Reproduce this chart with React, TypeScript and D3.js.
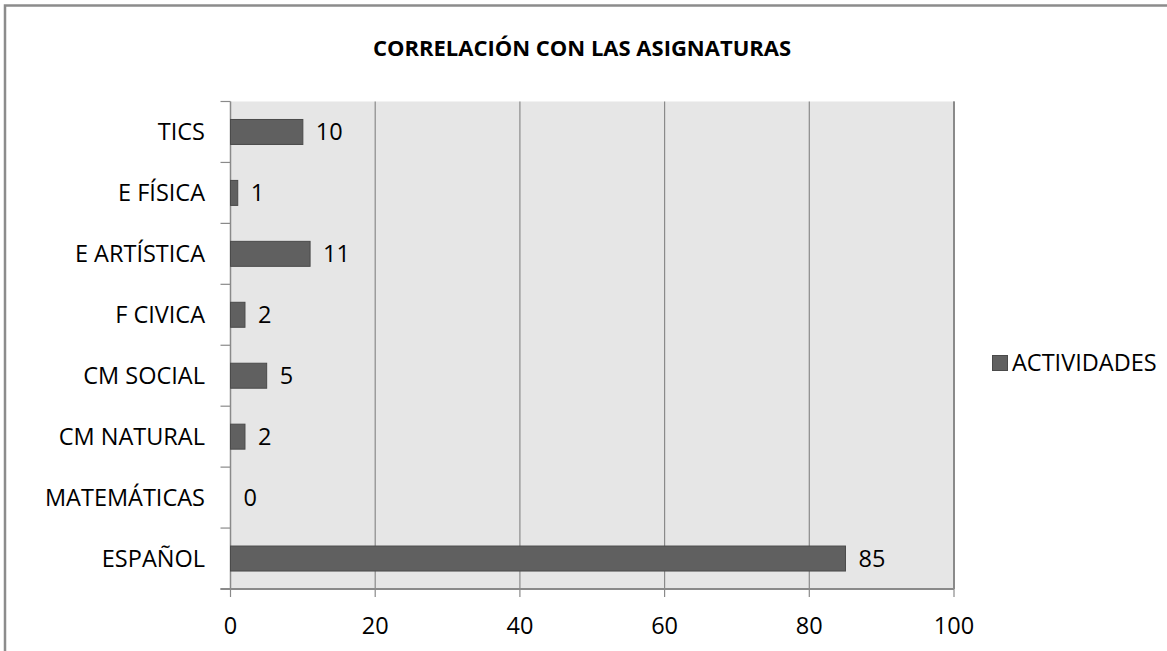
import React from "react";
import * as d3 from "d3";

const categories = ["TICS", "E FÍSICA", "E ARTÍSTICA", "F CIVICA", "CM SOCIAL", "CM NATURAL", "MATEMÁTICAS", "ESPAÑOL"];
const values = [10, 1, 11, 2, 5, 2, 0, 85];
const xTicks = [0, 20, 40, 60, 80, 100];
const seriesName = "ACTIVIDADES";
const title = "CORRELACIÓN CON LAS ASIGNATURAS";

const W = 1167, H = 651;
const left = 230.5, right = 954, top = 101.5, bottom = 589;
const font = "'Open Sans', sans-serif";
const fs = 23.5;

export default function App() {
  const x = d3.scaleLinear().domain([0, 100]).range([left, right]);
  const y = d3.scaleBand().domain(categories).range([top, bottom]).paddingInner(0.59).paddingOuter(0.295);
  const band = (bottom - top) / categories.length;
  return (
    <svg width={W} height={H} style={{ position: "absolute", left: 0, top: 0 }}>
      <rect x={0} y={0} width={W} height={H} fill="#fff" />
      <rect x={5} y={5.5} width={W + 10} height={H + 10} fill="none" stroke="#8c8c8c" strokeWidth={2.5} />
      <text x={582} y={56} textAnchor="middle" fontFamily={font} fontWeight="bold" fontSize={22} fill="#000">{title}</text>
      <rect x={left} y={top} width={right - left} height={bottom - top} fill="#e6e6e6" />
      {xTicks.slice(1).map((t) => (
        <line key={t} x1={x(t)} x2={x(t)} y1={top} y2={bottom} stroke="#8a8a8a" strokeWidth={1.2} />
      ))}
      <line x1={right} x2={right} y1={top} y2={bottom} stroke="#8a8a8a" strokeWidth={2} />
      <line x1={left} x2={left} y1={top} y2={bottom} stroke="#8a8a8a" strokeWidth={1.5} />
      <line x1={left - 10} x2={right} y1={bottom} y2={bottom} stroke="#8a8a8a" strokeWidth={2} />
      {d3.range(categories.length + 1).map((i) => (
        <line key={i} x1={left - 10} x2={left} y1={top + i * band} y2={top + i * band} stroke="#8a8a8a" strokeWidth={1.2} />
      ))}
      {xTicks.map((t) => (
        <g key={t}>
          <line x1={x(t)} x2={x(t)} y1={bottom} y2={bottom + 8} stroke="#8a8a8a" strokeWidth={1.2} />
          <text x={x(t)} y={634} textAnchor="middle" fontFamily={font} fontSize={fs} fill="#000">{t}</text>
        </g>
      ))}
      {categories.map((c, i) => (
        <g key={c}>
          <rect x={x(0)} y={y(c)!} width={x(values[i]) - x(0)} height={y.bandwidth()} fill="#606060" stroke="#4a4a4a" strokeWidth={values[i] > 0 ? 1 : 0} />
          <text x={205} y={y(c)! + y.bandwidth() / 2 + 8.5} textAnchor="end" fontFamily={font} fontSize={fs} fill="#000">{c}</text>
          <text x={x(values[i]) + 13} y={y(c)! + y.bandwidth() / 2 + 8.5} fontFamily={font} fontSize={fs} fill="#000">{values[i]}</text>
        </g>
      ))}
      <rect x={992.5} y={355.5} width={15} height={15} fill="#606060" stroke="#4a4a4a" />
      <text x={1012} y={371} fontFamily={font} fontSize={fs} fill="#000">{seriesName}</text>
    </svg>
  );
}
